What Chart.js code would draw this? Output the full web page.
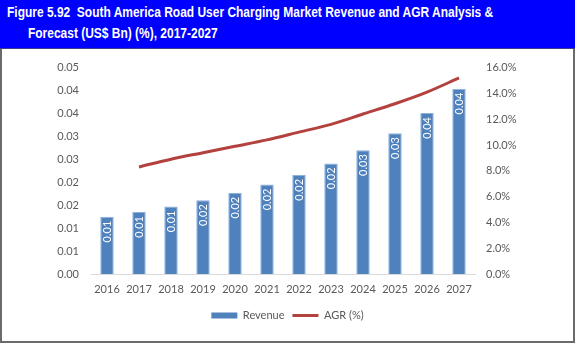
<!DOCTYPE html>
<html>
<head>
<meta charset="utf-8">
<script src="https://cdn.jsdelivr.net/npm/chart.js@4/dist/chart.umd.min.js"></script>
<style>
  html, body { margin: 0; padding: 0; background: #fff; }
  #frame {
    position: absolute; left: 0; top: 0; width: 571px; height: 341px;
    border-left: 2px solid #6b6b6b; border-right: 2px solid #6b6b6b; border-bottom: 2px solid #6b6b6b;
  }
  #banner {
    position: absolute; left: -2px; top: 0; width: 575px; height: 48px;
    background: #0000fe; border-bottom: 1px solid #3c3c8c;
    color: #fff; font: bold 14px "Liberation Sans", Arial, sans-serif;
  }
  #banner div { position: absolute; white-space: pre; transform: scaleX(0.855); transform-origin: 0 0; }
  #wrap { position: absolute; left: 0; top: 49px; width: 571px; height: 292px; }
</style>
</head>
<body>
<div id="frame">
  <div id="banner">
    <div style="left:7px; top:4px;">Figure 5.92  South America Road User Charging Market Revenue and AGR Analysis &amp;</div>
    <div style="left:28px; top:25px;">Forecast (US$ Bn) (%), 2017-2027</div>
  </div>
  <div id="wrap"><canvas id="chart"></canvas></div>
</div>
<script>
// Revenue and AGR
const years = ['2016', '2017', '2018', '2019', '2020', '2021', '2022', '2023', '2024', '2025', '2026', '2027'];
const revenue = [0.0125, 0.0135, 0.0147, 0.0161, 0.0177, 0.0195, 0.0216, 0.0241, 0.0270, 0.0307, 0.0351, 0.0404];
const agr = [null, 8.3, 8.9, 9.4, 9.9, 10.4, 11.0, 11.6, 12.4, 13.2, 14.1, 15.2];
const leftTickLabels = ['0.00', '0.01', '0.01', '0.02', '0.02', '0.03', '0.03', '0.04', '0.04', '0.05'];

const COLORS = {
  bar: '#4f81bd',
  barEdge: '#8fb0da',
  line: '#b3413e',
  text: '#595959',
  axis: '#d9d9d9'
};
const FONT = { family: 'Lato, "Liberation Sans", sans-serif', size: 11 };

// white rotated value labels inside the top of each bar
const barLabels = {
  id: 'barLabels',
  afterDatasetsDraw(chart) {
    const meta = chart.getDatasetMeta(0);
    const ctx = chart.ctx;
    ctx.save();
    ctx.fillStyle = '#fff';
    ctx.font = '11px ' + FONT.family;
    ctx.textAlign = 'right';
    ctx.textBaseline = 'middle';
    meta.data.forEach((bar, i) => {
      ctx.save();
      ctx.translate(bar.x, bar.y + 4);
      ctx.rotate(-Math.PI / 2);
      ctx.fillText(revenue[i].toFixed(2), 0, 0);
      ctx.restore();
    });
    ctx.restore();
  }
};

new Chart(document.getElementById('chart').getContext('2d'), {
  type: 'bar',
  data: {
    labels: years,
    datasets: [{
      label: 'Revenue',
      data: revenue,
      backgroundColor: COLORS.bar,
      borderColor: COLORS.barEdge,
      borderWidth: 1,
      categoryPercentage: 1,
      barPercentage: 0.42,
      yAxisID: 'y',
      order: 1
    }, {
      type: 'line',
      label: 'AGR (%)',
      data: agr,
      borderColor: COLORS.line,
      backgroundColor: COLORS.line,
      borderWidth: 3,
      pointRadius: 0,
      cubicInterpolationMode: 'monotone',
      yAxisID: 'y1',
      order: 0
    }]
  },
  options: {
    responsive: true,
    maintainAspectRatio: false,
    animation: false,
    layout: { padding: { top: 10, left: 0, right: 0, bottom: 10 } },
    plugins: {
      tooltip: { enabled: false },
      legend: {
        position: 'bottom',
        labels: {
          color: COLORS.text,
          font: FONT,
          usePointStyle: true,
          pointStyleWidth: 26,
          boxHeight: 6,
          padding: 8,
          generateLabels(chart) {
            const items = Chart.defaults.plugins.legend.labels.generateLabels(chart);
            items.sort((a, b) => a.datasetIndex - b.datasetIndex);
            items.forEach(it => {
              if (it.datasetIndex === 0) { it.pointStyle = 'rect'; it.lineWidth = 0; }
              else { it.pointStyle = 'line'; it.lineWidth = 3; it.strokeStyle = COLORS.line; }
            });
            return items;
          }
        }
      }
    },
    scales: {
      x: {
        grid: { display: false, drawTicks: false },
        border: { color: COLORS.axis, width: 1 },
        ticks: { color: COLORS.text, font: FONT, padding: 9, maxRotation: 0 },
        afterFit(s) { s.height = 28; }
      },
      y: {
        position: 'left',
        min: 0, max: 0.045,
        grid: { display: false, drawTicks: false },
        border: { display: false },
        ticks: {
          stepSize: 0.005, color: COLORS.text, font: FONT, padding: 12,
          callback: (v, i) => leftTickLabels[i]
        },
        afterFit(s) { s.width = 89; }
      },
      y1: {
        position: 'right',
        min: 0, max: 16,
        grid: { display: false, drawTicks: false },
        border: { display: false },
        ticks: {
          stepSize: 2, color: COLORS.text, font: FONT, padding: 11,
          callback: v => v.toFixed(1) + '%'
        },
        afterFit(s) { s.width = 98; }
      }
    }
  },
  plugins: [barLabels]
});
</script>
</body>
</html>
